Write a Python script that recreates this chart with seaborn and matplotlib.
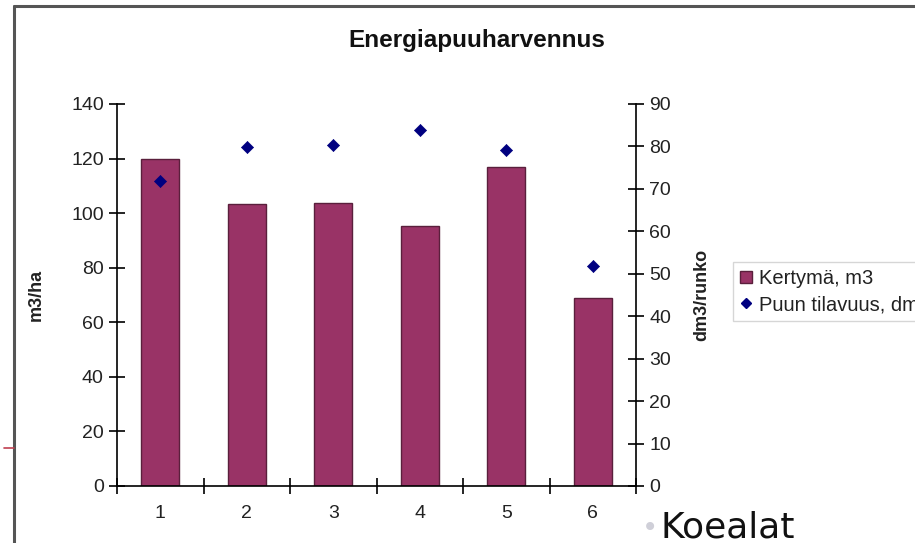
import numpy as np
import pandas as pd
import matplotlib
matplotlib.use("Agg")
import matplotlib.pyplot as plt
import seaborn as sns
from matplotlib.lines import Line2D
from matplotlib.patches import Patch

categories = ["1", "2", "3", "4", "5", "6"]
kertyma = [120, 103.3, 103.7, 95.3, 116.9, 68.9]
tilavuus = [71.9, 79.9, 80.3, 83.9, 79.2, 51.8]
left_ticks = [0, 20, 40, 60, 80, 100, 120, 140]
right_ticks = [0, 10, 20, 30, 40, 50, 60, 70, 80, 90]

sns.set_style("white")
plt.rcParams['font.family'] = ['Liberation Sans', 'DejaVu Sans']

df = pd.DataFrame({"koeala": categories, "kertyma": kertyma, "tilavuus": tilavuus,
                   "pos": np.arange(len(categories))})

fig = plt.figure(figsize=(9.15, 5.43), dpi=100)
ax = fig.add_axes([117/915, 1-486/543, (636-117)/915, (486-104)/543])

bar_color = "#993366"
sns.barplot(data=df, x="koeala", y="kertyma", color=bar_color, width=0.44,
            saturation=1, edgecolor="#5a1f3c", linewidth=1, ax=ax)

ax2 = ax.twinx()
sns.scatterplot(data=df, x="pos", y="tilavuus", marker="D", s=38, color="#000080",
                edgecolor="#000080", ax=ax2, zorder=5, legend=False)

ax.set_xlim(-0.5, len(categories) - 0.5)
ax2.set_xlim(-0.5, len(categories) - 0.5)
ax.set_ylim(0, 140)
ax2.set_ylim(0, 90)
ax.set_yticks(left_ticks)
ax2.set_yticks(right_ticks)

txt = "#222222"
for a in (ax, ax2):
    for s in a.spines.values():
        s.set_visible(False)
ax.spines['left'].set_visible(True)
ax.spines['bottom'].set_visible(True)
ax2.spines['right'].set_visible(True)
for s in (ax.spines['left'], ax.spines['bottom'], ax2.spines['right']):
    s.set_color("black")
    s.set_linewidth(1.2)

ax.tick_params(axis='y', direction='inout', length=11, width=1.2, color='black',
               labelsize=14, labelcolor=txt, pad=4, left=True)
ax2.tick_params(axis='y', direction='inout', length=11, width=1.2, color='black',
                labelsize=14, labelcolor=txt, pad=4, right=True)
ax.set_xticks(np.arange(len(categories)))
ax.set_xticklabels(categories)
ax.set_xticks(np.arange(-0.5, len(categories)), minor=True)
ax.tick_params(axis='x', which='major', length=0, labelsize=14, labelcolor=txt, pad=14)
ax.tick_params(axis='x', which='minor', direction='inout', length=11, width=1.2,
               color='black', bottom=True)

ax.set_xlabel("")
ax.set_ylabel("m3/ha", fontsize=13, fontweight='bold', color=txt)
ax2.set_ylabel("dm3/runko", fontsize=13, fontweight='bold', color=txt)
ax2.yaxis.set_label_coords(1 + (693-636)/519, 0.5)
ax.yaxis.set_label_coords(-(117-45)/519, 0.5)

fig.text(477/915, 1-40/543, "Energiapuuharvennus", ha='center', va='center',
         fontsize=17.5, fontweight='bold', color="#111111")

handles = [Patch(facecolor=bar_color, edgecolor="#5a1f3c", label="Kertymä, m3"),
           Line2D([], [], marker='D', linestyle='none', color="#000080", markersize=5,
                  label="Puun tilavuus, dm3/runko")]
leg = fig.legend(handles=handles, loc='upper left', bbox_to_anchor=(733/915, 1-262/543),
                 borderaxespad=0, frameon=True, fontsize=14.5, handlelength=0.6,
                 handleheight=0.6, handletextpad=0.35, borderpad=0.35,
                 labelspacing=0.35, fancybox=False)
leg.get_frame().set_edgecolor("#cccccc")
leg.get_frame().set_linewidth(1)
for t in leg.get_texts():
    t.set_color(txt)

# outer frame
fig.add_artist(Line2D([14/915, 14/915], [0, 1-6/543], color="#555555", lw=2.2,
                      transform=fig.transFigure))
fig.add_artist(Line2D([14/915, 1], [1-6/543, 1-6/543], color="#555555", lw=2.2,
                      transform=fig.transFigure))
fig.add_artist(Line2D([4/915, 14/915], [1-448/543, 1-448/543], color="#c04050", lw=1.2,
                      transform=fig.transFigure))

fig.text(650/915, 1-528/543, "\u2022", fontsize=20, color="#cfcfd8", ha='center',
         va='center', family='DejaVu Sans')
fig.text(660/915, 1-538/543, "Koealat", fontsize=26, color="#111111", ha='left',
         va='baseline', family='DejaVu Sans')

fig.savefig("out.png", dpi=100)
